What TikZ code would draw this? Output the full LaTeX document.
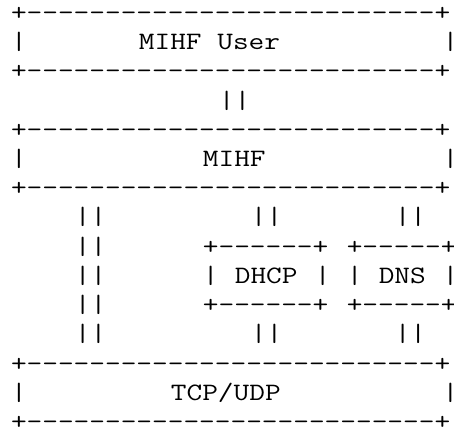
\documentclass[tikz,border=0pt]{standalone}
\usepackage{fontspec}
\setmonofont{Latin Modern Mono}[Ligatures=TeXOff, FakeStretch=1.2183]
\tikzset{ascii/.style={inner sep=0pt, outer sep=0pt, anchor=base west,
  font=\ttfamily\fontsize{25pt}{29pt}\selectfont, text=black}}
% #1 name, #2 column, #3 row, #4 text
\newcommand\chunk[4]{\node[ascii] (#1) at ({11pt+#2*15.99pt},{-20.5pt-#3*29.21pt}) {#4};}
\newcommand\wideline{+--------------------------+}
\begin{document}
\begin{tikzpicture}
\useasboundingbox (0,0) rectangle (454pt,-429pt);
% MIHF User box
\chunk{uTop}{0}{0}{\wideline}
\chunk{uL}{0}{1}{|}
\chunk{uText}{8}{1}{MIHF User}
\chunk{uR}{27}{1}{|}
\chunk{uBot}{0}{2}{\wideline}
% link user - MIHF
\chunk{linkA}{13}{3}{||}
% MIHF box
\chunk{mTop}{0}{4}{\wideline}
\chunk{mL}{0}{5}{|}
\chunk{mText}{12}{5}{MIHF}
\chunk{mR}{27}{5}{|}
\chunk{mBot}{0}{6}{\wideline}
% links below MIHF
\chunk{lA1}{4}{7}{||}
\chunk{lB1}{15}{7}{||}
\chunk{lC1}{24}{7}{||}
\chunk{lA2}{4}{8}{||}
\chunk{lA3}{4}{9}{||}
\chunk{lA4}{4}{10}{||}
\chunk{lA5}{4}{11}{||}
\chunk{lB2}{15}{11}{||}
\chunk{lC2}{24}{11}{||}
% DHCP box
\chunk{dTop}{12}{8}{+------+}
\chunk{dL}{12}{9}{|}
\chunk{dText}{14}{9}{DHCP}
\chunk{dR}{19}{9}{|}
\chunk{dBot}{12}{10}{+------+}
% DNS box
\chunk{nTop}{21}{8}{+-----+}
\chunk{nL}{21}{9}{|}
\chunk{nText}{23}{9}{DNS}
\chunk{nR}{27}{9}{|}
\chunk{nBot}{21}{10}{+-----+}
% TCP/UDP box
\chunk{tTop}{0}{12}{\wideline}
\chunk{tL}{0}{13}{|}
\chunk{tText}{10}{13}{TCP/UDP}
\chunk{tR}{27}{13}{|}
\chunk{tBot}{0}{14}{\wideline}
\end{tikzpicture}
\end{document}
